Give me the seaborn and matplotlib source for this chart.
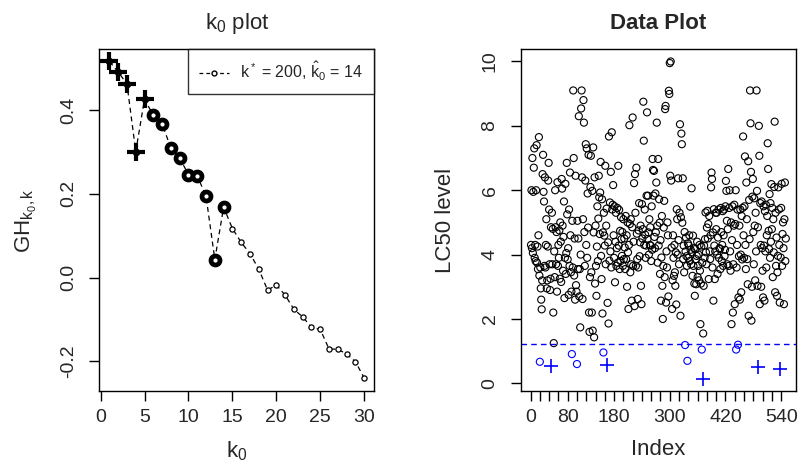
import numpy as np
import pandas as pd
import matplotlib.pyplot as plt
import seaborn as sns
from matplotlib.lines import Line2D

# k0 plot data
k0 = np.arange(1, 31)
gh = [0.516, 0.491, 0.462, 0.301, 0.426, 0.387, 0.367, 0.309, 0.285, 0.246,
      0.243, 0.194, 0.043, 0.168, 0.117, 0.084, 0.057, 0.020, -0.030, -0.018,
      -0.042, -0.076, -0.094, -0.119, -0.124, -0.171, -0.171, -0.183, -0.201, -0.240]
k_star = 200
k0_hat = 14
n_plus = 5

# LC50 levels, in index order
lc50 = [
    # 1-50
    4.3, 6.0, 4.2, 7.0, 4.05, 5.95, 6.7, 7.3, 3.9, 4.3, 3.8, 6.0, 7.4, 3.75, 4.25, 3.55, 4.6, 7.65, 3.35, 0.67,
    3.6, 2.95, 2.6, 2.3, 3.2, 6.5, 7.1, 5.95, 5.65, 3.65, 6.4, 3.6, 4.3, 5.1, 2.95, 3.2, 4.25, 6.3, 6.85, 5.4,
    3.7, 2.9, 3.25, 4.85, 0.53, 5.3, 3.7, 4.8, 2.2, 1.25,
    # 51-100
    4.1, 3.3, 6.0, 4.85, 3.7, 4.7, 2.85, 6.25, 3.65, 4.3, 3.9, 4.75, 3.25, 5.0, 4.4, 3.15, 6.35, 6.05, 4.9, 3.5,
    4.55, 5.65, 2.65, 3.9, 6.2, 3.4, 4.05, 6.85, 5.25, 3.85, 4.2, 2.75, 5.4, 3.65, 6.55, 4.6, 3.45, 2.85, 0.91, 5.05,
    3.6, 9.1, 7.0, 3.35, 4.5, 2.6, 6.45, 3.05, 2.85, 0.60,
    # 101-150
    5.05, 3.55, 4.5, 8.3, 2.7, 3.55, 1.74, 4.0, 8.54, 9.1, 6.4, 2.62, 5.1, 8.8, 8.1, 4.7, 3.65, 6.3, 7.43, 4.3,
    7.3, 3.9, 5.9, 4.84, 7.1, 2.2, 1.6, 3.3, 6.1, 7.07, 3.45, 2.2, 5.98, 1.64, 7.33, 4.69, 1.43, 6.4, 3.1, 4.9,
    3.65, 2.72, 4.25, 5.5, 3.8, 5.12, 6.45, 5.78, 4.64, 5.93,
    # 151-200
    6.88, 3.96, 3.24, 5.72, 2.17, 4.69, 0.96, 5.3, 4.59, 4.28, 6.76, 3.7, 4.9, 5.43, 0.57, 2.5, 4.38, 1.86, 7.67, 3.81,
    5.62, 4.1, 6.57, 3.6, 7.8, 5.4, 5.55, 6.16, 4.6, 3.9, 5.5, 3.14, 4.4, 5.3, 3.65, 4.2, 5.45, 3.75, 6.76, 4.28,
    5.39, 3.55, 4.74, 3.8, 5.16, 4.48, 3.96, 4.7, 3.65, 5.1,
    # 201-250
    3.86, 4.5, 4.22, 3.55, 5.2, 3.86, 4.6, 3.0, 5.0, 4.07, 2.31, 4.3, 8.02, 4.95, 3.45, 5.1, 3.7, 2.57, 4.85, 8.26,
    3.65, 4.4, 6.22, 2.4, 6.5, 5.3, 3.65, 6.7, 4.65, 3.86, 2.62, 3.6, 4.75, 5.6, 3.95, 4.38, 4.9, 3.03, 2.46, 5.57,
    4.5, 4.79, 8.75, 7.54, 4.3, 5.4, 4.62, 3.9, 4.28, 5.83,
    # 251-300
    8.42, 4.48, 5.83, 4.69, 4.0, 5.1, 4.3, 4.85, 4.28, 3.8, 5.5, 4.15, 6.97, 6.63, 5.83, 6.6, 4.55, 4.2, 5.9, 4.69,
    6.24, 8.1, 4.9, 3.75, 6.97, 4.28, 5.72, 4.99, 3.4, 4.45, 2.57, 3.91, 5.2, 3.03, 2.0, 3.65, 4.84, 5.67, 3.3, 8.52,
    8.62, 2.51, 4.1, 3.6, 5.0, 4.6, 2.7, 9.09, 8.99, 9.95,
    # 301-350
    6.45, 10.0, 6.3, 4.22, 2.31, 3.2, 4.6, 3.9, 3.34, 4.3, 3.45, 3.03, 4.07, 2.45, 5.41, 5.1, 4.0, 6.37, 4.45, 3.7,
    5.3, 8.05, 2.1, 5.16, 7.76, 7.43, 4.99, 6.37, 3.86, 4.28, 3.45, 4.7, 1.19, 4.1, 4.53, 3.95, 3.65, 0.70, 4.35, 3.9,
    4.28, 4.6, 3.8, 5.49, 4.15, 3.7, 6.06, 4.07, 3.34, 4.59,
    # 351-400
    3.65, 4.2, 3.1, 2.72, 4.17, 3.86, 3.08, 3.96, 4.4, 3.3, 3.65, 4.0, 3.2, 4.3, 3.5, 1.84, 3.1, 4.25, 1.05, 3.75,
    0.14, 1.55, 3.03, 4.28, 3.9, 4.48, 5.31, 4.07, 3.7, 4.84, 5.36, 4.5, 4.95, 3.24, 5.2, 4.1, 3.86, 4.6, 6.09, 6.55,
    6.35, 3.6, 4.69, 2.57, 5.41, 4.28, 3.24, 4.1, 5.3, 4.79,
    # 401-450
    5.3, 4.0, 3.4, 4.53, 5.4, 3.9, 4.2, 4.17, 3.55, 5.45, 4.7, 3.8, 4.3, 5.35, 3.65, 4.6, 5.4, 3.95, 4.15, 5.5,
    6.29, 5.98, 5.05, 3.7, 4.79, 6.66, 3.65, 5.45, 6.0, 4.1, 3.5, 5.0, 1.84, 4.45, 5.5, 2.2, 3.7, 4.9, 5.55, 2.46,
    4.95, 6.0, 1.05, 3.6, 4.3, 5.4, 1.20, 2.67, 3.95, 4.9,
    # 451-500
    2.6, 5.4, 4.0, 2.83, 5.2, 3.85, 5.45, 7.67, 4.6, 3.9, 5.5, 7.05, 4.3, 3.55, 6.24, 5.1, 3.86, 3.08, 6.9, 2.1,
    5.7, 4.48, 9.1, 8.08, 6.57, 1.95, 3.0, 5.8, 6.35, 4.7, 3.7, 5.75, 4.9, 3.2, 5.3, 4.1, 9.1, 5.98, 3.03, 4.85,
    0.50, 8.0, 7.07, 2.46, 5.6, 4.3, 3.0, 5.65, 4.2, 3.5,
    # 501-550
    2.67, 5.5, 4.28, 2.57, 5.35, 4.1, 5.55, 3.6, 4.6, 5.2, 7.46, 6.66, 4.74, 4.17, 5.88, 3.9, 5.6, 4.4, 6.19, 4.79,
    5.45, 3.3, 5.1, 4.07, 6.1, 8.13, 2.83, 5.3, 3.65, 4.53, 2.72, 3.45, 3.96, 6.09, 5.4, 4.3, 2.51, 0.45, 3.91, 5.45,
    6.2, 3.65, 4.64, 5.0, 4.2, 2.46, 5.1, 6.24, 3.8, 4.5,
]
threshold = 1.22
index_ticks = np.arange(0, 541, 20)
index_labels = [0, 80, 180, 300, 420, 540]

sns.set_theme(style="ticks")
plt.rcParams['font.family'] = ['Liberation Sans', 'DejaVu Sans']
plt.rcParams['mathtext.fontset'] = 'custom'
plt.rcParams['mathtext.rm'] = 'Liberation Sans'
plt.rcParams['mathtext.it'] = 'Liberation Sans:italic'

fig = plt.figure(figsize=(8, 4.75), dpi=100)
ax1 = fig.add_axes([0.124, 0.176, 0.344, 0.721])
ax2 = fig.add_axes([0.651, 0.176, 0.344, 0.721])

# ---- left: k0 plot ----
gh = np.array(gh)
sns.lineplot(x=k0, y=gh, ax=ax1, color='black', linestyle=(0, (4, 3)), linewidth=0.9)
rest = k0 > k0_hat
sns.scatterplot(x=k0[rest], y=gh[rest], ax=ax1, marker='o', s=14,
                facecolor='white', edgecolor='black', linewidth=0.9, zorder=3)
mid = (k0 > n_plus) & (k0 <= k0_hat)
sns.scatterplot(x=k0[mid], y=gh[mid], ax=ax1, marker='o', s=42,
                facecolor='white', edgecolor='black', linewidth=3.4, zorder=3)
top = k0 <= n_plus
sns.scatterplot(x=k0[top], y=gh[top], ax=ax1, marker='+', s=150,
                color='black', linewidth=3, zorder=3)
sns.scatterplot(x=k0[top], y=gh[top], ax=ax1, marker='o', s=30,
                color='black', linewidth=0, zorder=4)

ax1.set_xlim(-0.16, 31.16)
ax1.set_ylim(-0.272, 0.546)
ax1.set_xticks([0, 5, 10, 15, 20, 25, 30])
ax1.set_yticks([-0.2, 0.0, 0.2, 0.4])
ax1.set_yticklabels(['-0.2', '0.0', '0.2', '0.4'], rotation=90, va='center')
ax1.set_title(r'$\mathrm{k_0}$ plot', fontsize=16, pad=14)
ax1.set_xlabel(r'$\mathrm{k_0}$', fontsize=16, labelpad=9)
ax1.set_ylabel(r'$\mathrm{GH_{k_0,k}}$', fontsize=16)
ax1.yaxis.set_label_coords(-0.22, 0.5)

handle = Line2D([], [], color='black', linestyle=(0, (3, 2.5)), linewidth=0.9,
                marker='o', markersize=3.5, markerfacecolor='white', markeredgecolor='black')
label = r'$\mathrm{k^*}$ = %d, $\mathrm{\hat{k}_0}$ = %d' % (k_star, k0_hat)
leg = ax1.legend([handle], [label],
                 loc='upper right', fontsize=11.5, frameon=True, fancybox=False,
                 borderaxespad=0, handlelength=1.9, handletextpad=0.7,
                 borderpad=0.7)
leg.get_frame().set_edgecolor('black')
leg.get_frame().set_linewidth(1)

# ---- right: data plot ----
df = pd.DataFrame({'Index': np.arange(1, len(lc50) + 1), 'LC50': lc50})
low = df['LC50'] < threshold
smallest = df['LC50'].nsmallest(n_plus).index
plus = df.index.isin(smallest)

sns.scatterplot(data=df[~low], x='Index', y='LC50', ax=ax2, marker='o', s=26,
                facecolor='none', edgecolor='black', linewidth=0.8)
sns.scatterplot(data=df[low & ~plus], x='Index', y='LC50', ax=ax2, marker='o', s=26,
                facecolor='none', edgecolor='blue', linewidth=0.8)
sns.scatterplot(data=df[plus], x='Index', y='LC50', ax=ax2, marker='+', s=90,
                color='blue', linewidth=1.2)
ax2.axhline(threshold, color='blue', linestyle=(0, (4, 3)), linewidth=1)

ax2.set_xlim(-21, 572)
ax2.set_ylim(-0.25, 10.39)
ax2.set_xticks(index_ticks)
ax2.set_xticklabels([str(t) if t in index_labels else '' for t in index_ticks])
ax2.set_yticks([0, 2, 4, 6, 8, 10])
ax2.set_yticklabels(['0', '2', '4', '6', '8', '10'], rotation=90, va='center')
ax2.set_title('Data Plot', fontsize=16, fontweight='bold', pad=14)
ax2.set_xlabel('Index', fontsize=16, labelpad=9)
ax2.set_ylabel('LC50 level', fontsize=16)
ax2.yaxis.set_label_coords(-0.235, 0.5)

for ax in (ax1, ax2):
    for sp in ax.spines.values():
        sp.set_visible(True)
        sp.set_color('black')
        sp.set_linewidth(1)
    ax.tick_params(axis='both', labelsize=14, length=7, width=1, color='black',
                   direction='out', pad=6)
    ax.tick_params(axis='y', pad=9)
    ax.grid(False)

plt.savefig('out.png', dpi=100)
